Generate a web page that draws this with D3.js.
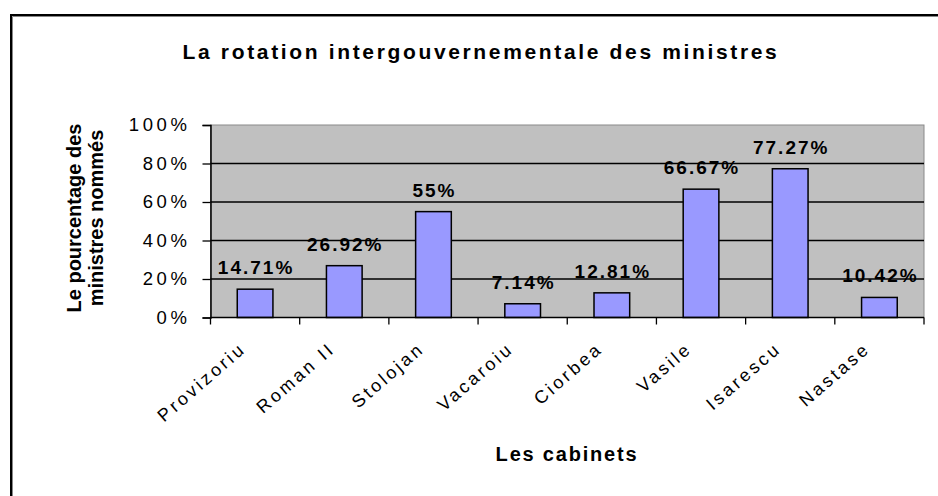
<!DOCTYPE html>
<html>
<head>
    <title>La rotation intergouvernementale des ministres</title>
    <script src="https://d3js.org/d3.v7.min.js"></script>
    <style>
        body { margin: 0; background: #fff; }
        text { font-family: Arial, "Liberation Sans", sans-serif; fill: #000; }
    </style>
</head>
<body>
    <div id="chart"></div>
    <script>
        var cabinets = ["Provizoriu", "Roman II", "Stolojan", "Vacaroiu", "Ciorbea", "Vasile", "Isarescu", "Nastase"];
        var pourcentages = [14.71, 26.92, 55, 7.14, 12.81, 66.67, 77.27, 10.42];
        var valueLabels = ["14.71%", "26.92%", "55%", "7.14%", "12.81%", "66.67%", "77.27%", "10.42%"];
        var yTicks = [0, 20, 40, 60, 80, 100];

        var svgWidth = 938;
        var svgHeight = 496;
        var plot = { left: 210.5, right: 924, top: 125, bottom: 317.5 };

        var svg = d3.select("#chart")
            .append("svg")
            .attr("width", svgWidth)
            .attr("height", svgHeight);

        // chart frame (runs off the right and bottom of the picture)
        svg.append("rect")
            .attr("x", 11).attr("y", 15)
            .attr("width", 1000).attr("height", 600)
            .attr("fill", "none")
            .attr("stroke", "#000")
            .attr("stroke-width", 2);
        svg.append("path")
            .attr("d", "M12.5,1000V16.5H1000")
            .attr("fill", "none")
            .attr("stroke", "#888")
            .attr("stroke-width", 1);

        svg.append("text")
            .attr("x", 481)
            .attr("y", 59)
            .attr("text-anchor", "middle")
            .attr("font-size", 21)
            .attr("font-weight", "bold")
            .style("letter-spacing", "2.65px")
            .text("La rotation intergouvernementale des ministres");

        var x = d3.scaleBand()
            .domain(cabinets)
            .range([plot.left, plot.right])
            .paddingInner(0)
            .paddingOuter(0);

        var y = d3.scaleLinear()
            .domain([0, 100])
            .range([plot.bottom, plot.top]);

        // plot area
        svg.append("rect")
            .attr("x", plot.left).attr("y", plot.top)
            .attr("width", plot.right - plot.left)
            .attr("height", plot.bottom - plot.top)
            .attr("fill", "#c0c0c0")
            .attr("stroke", "#8a8a8a")
            .attr("stroke-width", 1);

        // gridlines
        svg.selectAll(".grid")
            .data(yTicks.filter(function(d) { return d > 0 && d < 100; }))
            .enter()
            .append("line")
            .attr("class", "grid")
            .attr("x1", plot.left).attr("x2", plot.right)
            .attr("y1", function(d) { return y(d); })
            .attr("y2", function(d) { return y(d); })
            .attr("stroke", "#000")
            .attr("stroke-width", 1.3);

        // bars
        var barWidth = x.bandwidth() * 0.4;
        svg.selectAll(".bar")
            .data(pourcentages)
            .enter()
            .append("rect")
            .attr("class", "bar")
            .attr("x", function(d, i) { return x(cabinets[i]) + (x.bandwidth() - barWidth) / 2; })
            .attr("y", function(d) { return y(d); })
            .attr("width", barWidth)
            .attr("height", function(d) { return plot.bottom - y(d); })
            .attr("fill", "#9999ff")
            .attr("stroke", "#000")
            .attr("stroke-width", 1.5);

        // value labels
        svg.selectAll(".value")
            .data(pourcentages)
            .enter()
            .append("text")
            .attr("class", "value")
            .attr("x", function(d, i) { return x(cabinets[i]) + x.bandwidth() / 2 + 1; })
            .attr("y", function(d) { return y(d) - 15; })
            .attr("text-anchor", "middle")
            .attr("font-size", 19)
            .attr("font-weight", "bold")
            .style("letter-spacing", "2px")
            .text(function(d, i) { return valueLabels[i]; });

        // y axis
        var yAxis = svg.append("g")
            .attr("transform", "translate(" + plot.left + ",0)")
            .call(d3.axisLeft(y)
                .tickValues(yTicks)
                .tickSize(8)
                .tickPadding(12)
                .tickFormat(function(d) { return d + "%"; }));
        yAxis.select(".domain").attr("stroke", "#000").attr("stroke-width", 1.5);
        yAxis.selectAll(".tick line").attr("stroke", "#000").attr("stroke-width", 1.3);
        yAxis.selectAll(".tick text")
            .attr("font-family", null)
            .attr("font-size", 18.5)
            .style("letter-spacing", "3.6px")
            .attr("fill", "#000");

        // x axis, ticks on category boundaries
        var xAxis = svg.append("g")
            .attr("transform", "translate(0," + plot.bottom + ")");
        xAxis.append("line")
            .attr("x1", plot.left).attr("x2", plot.right)
            .attr("stroke", "#000").attr("stroke-width", 1.5);
        xAxis.selectAll(".xtick")
            .data(cabinets.concat(["end"]))
            .enter()
            .append("line")
            .attr("class", "xtick")
            .attr("x1", function(d, i) { return i < cabinets.length ? x(d) : plot.right; })
            .attr("x2", function(d, i) { return i < cabinets.length ? x(d) : plot.right; })
            .attr("y1", 0).attr("y2", 7)
            .attr("stroke", "#000").attr("stroke-width", 1.3);

        xAxis.selectAll(".xlabel")
            .data(cabinets)
            .enter()
            .append("text")
            .attr("class", "xlabel")
            .attr("text-anchor", "end")
            .attr("font-size", 18)
            .style("letter-spacing", "3px")
            .attr("transform", function(d) {
                return "translate(" + (x(d) + x.bandwidth() / 2 - 8) + ",33) rotate(-41)";
            })
            .text(function(d) { return d; });

        // axis titles
        svg.append("text")
            .attr("x", 567)
            .attr("y", 461)
            .attr("text-anchor", "middle")
            .attr("font-size", 20)
            .attr("font-weight", "bold")
            .style("letter-spacing", "1.8px")
            .text("Les cabinets");

        var yTitle = svg.append("text")
            .attr("transform", "translate(81,218) rotate(-90)")
            .attr("text-anchor", "middle")
            .attr("font-size", 20)
            .attr("font-weight", "bold");
        yTitle.append("tspan").attr("x", 0).attr("y", 0).text("Le pourcentage des");
        yTitle.append("tspan").attr("x", 0).attr("y", 22).text("ministres nommés");
    </script>
</body>
</html>
